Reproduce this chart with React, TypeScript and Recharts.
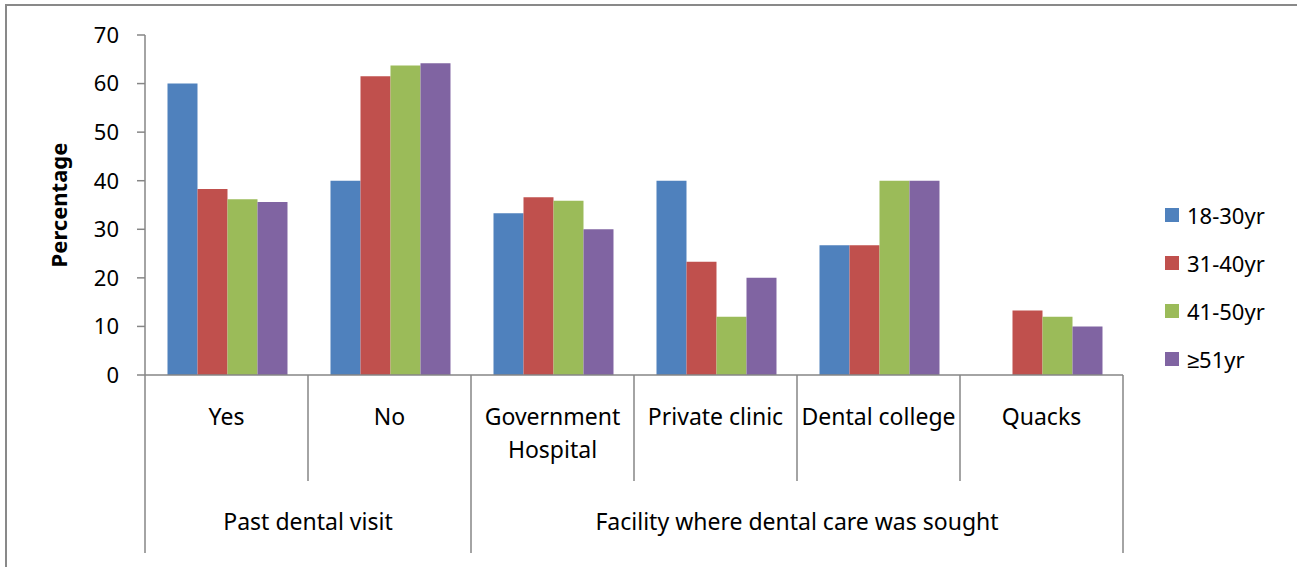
import React from 'react';
import { BarChart, Bar, XAxis, YAxis, Legend } from 'recharts';

const categories = ['Yes', 'No', 'Government\nHospital', 'Private clinic', 'Dental college', 'Quacks'];
const groups = ['Past dental visit', 'Facility where dental care was sought'];
const groupSpans = [2, 4];

const seriesNames = ['18-30yr', '31-40yr', '41-50yr', '≥51yr'];
const seriesColors = ['#4F81BD', '#C0504D', '#9BBB59', '#8064A2'];

const age18to30 = [60, 40, 33.3, 40, 26.7, 0];
const age31to40 = [38.3, 61.5, 36.6, 23.3, 26.7, 13.3];
const age41to50 = [36.2, 63.7, 35.9, 12, 40, 12];
const age51plus = [35.6, 64.2, 30, 20, 40, 10];

const yTicks = [0, 10, 20, 30, 40, 50, 60, 70];

const seriesValues = [age18to30, age31to40, age41to50, age51plus];
const data = categories.map((name, i) => {
  const row: Record<string, string | number> = { name };
  seriesValues.forEach((vals, s) => {
    row['s' + s] = vals[i];
  });
  return row;
});

const FONT = '"Noto Sans", sans-serif';
const AXIS = '#868686';

// indexes where a group starts, plus the running group index per category
const groupStarts: number[] = [];
const groupOf: number[] = [];
groupSpans.reduce((start, span, g) => {
  groupStarts.push(start);
  for (let k = 0; k < span; k++) groupOf.push(g);
  return start + span;
}, 0);

function CategoryTick(props: any) {
  const { x, y, payload, index, width } = props;
  const half = payload?.offset ?? width / categories.length / 2;
  const left = x - half;
  const right = x + half;
  const isGroupStart = groupStarts.includes(index);
  const isLast = index === categories.length - 1;
  const lines = String(payload.value).split('\n');
  const g = groupOf[index];
  return (
    <g>
      <line x1={left} y1={y} x2={left} y2={y + (isGroupStart ? 178 : 106)} stroke={AXIS} strokeWidth={1.5} />
      {isLast && <line x1={right} y1={y} x2={right} y2={y + 178} stroke={AXIS} strokeWidth={1.5} />}
      <text x={x} y={y + 50} textAnchor="middle" fontFamily={FONT} fontSize={23} fill="#000">
        {lines.map((ln, i) => (
          <tspan key={i} x={x} dy={i === 0 ? 0 : 33}>{ln}</tspan>
        ))}
      </text>
      {isGroupStart && (
        <text
          x={left + groupSpans[g] * half}
          y={y + 155}
          textAnchor="middle"
          fontFamily={FONT}
          fontSize={23}
          fill="#000"
        >
          {groups[g]}
        </text>
      )}
    </g>
  );
}

function YTitle(props: any) {
  const { viewBox } = props;
  const cx = viewBox.x - 27;
  const cy = viewBox.y + viewBox.height / 2;
  return (
    <text
      x={cx}
      y={cy}
      transform={`rotate(-90, ${cx}, ${cy})`}
      textAnchor="middle"
      dominantBaseline="central"
      fontFamily={FONT}
      fontSize={22}
      fontWeight="bold"
      fill="#000"
    >
      Percentage
    </text>
  );
}

function LegendList(props: any) {
  const { payload } = props;
  return (
    <div style={{ fontFamily: FONT, fontSize: 22, color: '#000' }}>
      {(payload || []).map((entry: any) => (
        <div key={entry.value} style={{ height: 48, display: 'flex', alignItems: 'center' }}>
          <span style={{ width: 14, height: 14, background: entry.color, marginLeft: 7, marginRight: 8, display: 'inline-block' }} />
          <span>{entry.value}</span>
        </div>
      ))}
    </div>
  );
}

export default function App() {
  return (
    <div style={{ position: 'fixed', left: 0, top: 0, width: 1297, height: 567, overflow: 'hidden', background: '#fff' }}>
      <div
        style={{
          position: 'absolute',
          left: 5,
          top: 4,
          width: 1310,
          height: 561,
          borderTop: '2px solid #898989',
          borderLeft: '2px solid #898989',
          borderBottom: '1px solid #b5b5b5',
        }}
      />
      <BarChart
        width={1297}
        height={567}
        data={data}
        margin={{ top: 35, right: 54, bottom: 42, left: 85 }}
        barCategoryGap="13.8%"
        barGap={0}
      >
        <XAxis
          dataKey="name"
          height={150}
          interval={0}
          tickLine={false}
          tickSize={0}
          tickMargin={0}
          axisLine={{ stroke: AXIS, strokeWidth: 1.5 }}
          tick={<CategoryTick />}
        />
        <YAxis
          width={60}
          domain={[0, 70]}
          ticks={yTicks}
          tickSize={8}
          tickMargin={18}
          axisLine={{ stroke: AXIS, strokeWidth: 1.5 }}
          tickLine={{ stroke: AXIS, strokeWidth: 1.5 }}
          tick={{ fontFamily: FONT, fontSize: 22, fill: '#000' }}
          label={<YTitle />}
        />
        <Legend
          layout="vertical"
          align="right"
          verticalAlign="top"
          content={<LegendList />}
          wrapperStyle={{ left: 1158, top: 191, width: 120, height: 192 }}
        />
        {seriesNames.map((name, s) => (
          <Bar key={name} dataKey={'s' + s} name={name} fill={seriesColors[s]} isAnimationActive={false} />
        ))}
      </BarChart>
    </div>
  );
}
